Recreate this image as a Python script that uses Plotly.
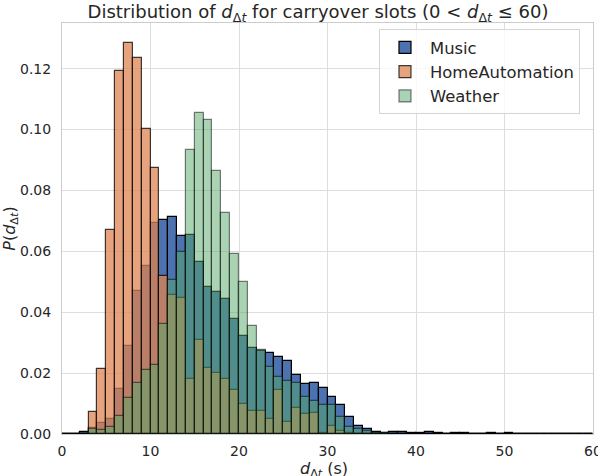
import plotly.graph_objects as go

# histogram bins (left edges, width 1 s) and normalised counts
bin_left = list(range(0, 60))

music = [0, 0, 0.0005, 0.0021, 0.0035, 0.0049, 0.0148, 0.0289, 0.0470, 0.0553,
         0.0692, 0.0702, 0.0713, 0.0649, 0.0655, 0.0565, 0.0482, 0.0466, 0.0443, 0.0377,
         0.0322, 0.0284, 0.0272, 0.0265, 0.0254, 0.0241, 0.0193, 0.0164, 0.0167, 0.0150,
         0.0123, 0.0095, 0.0057, 0.0025, 0.0015, 0.0008, 0.0004, 0.0006, 0.0006, 0.0003,
         0.0002, 0.0006, 0.0002, 0.0001, 0.0002, 0.0002, 0.0001, 0.0001, 0.0004, 0.0001,
         0.0002, 0.0001, 0.0001, 0.0001, 0.0001, 0.0001, 0.0001, 0.0001, 0.0001, 0.0001]

home_automation = [0, 0, 0, 0.0071, 0.0215, 0.0671, 0.1192, 0.1285, 0.1235, 0.1003,
                   0.0874, 0.0518, 0.0457, 0.0446, 0.0180, 0.0309, 0.0216, 0.0200, 0.0180, 0.0145,
                   0.0099, 0.0077, 0.0076, 0.0049, 0.0145, 0.0041, 0.0084, 0.0065, 0.0070, 0.0004,
                   0.0026, 0.0011, 0.0002, 0, 0, 0, 0, 0, 0, 0,
                   0, 0, 0, 0, 0, 0, 0, 0, 0, 0,
                   0, 0, 0, 0, 0, 0, 0, 0, 0, 0]

weather = [0, 0, 0, 0.0015, 0.0013, 0.0024, 0.0060, 0.0117, 0.0167, 0.0210,
           0.0228, 0.0361, 0.0505, 0.0599, 0.0934, 0.1054, 0.1031, 0.0863, 0.0726, 0.0592,
           0.0500, 0.0354, 0.0276, 0.0221, 0.0186, 0.0175, 0.0169, 0.0123, 0.0110, 0.0094,
           0.0094, 0.0057, 0.0022, 0.0015, 0.0010, 0.0004, 0.0002, 0.0001, 0, 0,
           0, 0, 0, 0, 0, 0, 0, 0, 0, 0,
           0, 0, 0, 0, 0, 0, 0, 0, 0, 0]

x_ticks = [0, 10, 20, 30, 40, 50, 60]
y_ticks = [0.00, 0.02, 0.04, 0.06, 0.08, 0.10, 0.12]

# name, values, rgb, alpha
series = [("Music", music, (76, 114, 176), 1.0),
          ("HomeAutomation", home_automation, (221, 132, 82), 0.75),
          ("Weather", weather, (85, 168, 104), 0.5)]

fig = go.Figure()
for name, vals, rgb, alpha in series:
    fig.add_trace(go.Bar(
        x=bin_left, y=vals, name=name, width=1, offset=0,
        legendgroup=name,
        marker=dict(color="rgba(%d,%d,%d,%.2f)" % (rgb + (alpha,)),
                    line=dict(color="rgba(0,0,0,%.2f)" % alpha, width=1.2)),
    ))

dt = "<i>d</i><sub>Δ<i>t</i></sub>"
fig.update_layout(
    width=598, height=476,
    margin=dict(l=62, r=5, t=23, b=42, autoexpand=False),
    barmode="overlay",
    bargap=0,
    paper_bgcolor="white",
    plot_bgcolor="white",
    font=dict(family="DejaVu Sans", size=14, color="#262626"),
    title=dict(text="Distribution of " + dt + " for carryover slots (0 &lt; " + dt + " ≤ 60)",
               x=318 / 598, xanchor="center",
               y=1 - 12 / 476, yanchor="middle",
               font=dict(size=18)),
    legend=dict(x=0.9755, y=0.985, xanchor="right", yanchor="top",
                bgcolor="rgba(255,255,255,0.8)", bordercolor="#d5d5d5", borderwidth=1,
                font=dict(size=16.4), tracegroupgap=0, itemwidth=40),
    showlegend=True,
)
# x axis label as an annotation so it can sit right at the bottom edge like the original
fig.add_annotation(text=dt + " (s)", xref="paper", yref="paper",
                   x=(324 - 62) / 531, y=-(469 - 434) / 411,
                   xanchor="center", yanchor="middle", showarrow=False,
                   font=dict(size=16))
fig.update_xaxes(range=[0, 60], tickvals=x_ticks, showgrid=True, gridcolor="#dddddd",
                 showline=True, linecolor="#cccccc", mirror=True, zeroline=False,
                 ticks="outside", ticklen=4, tickcolor="rgba(0,0,0,0)",
                 ticklabeloverflow="allow", automargin=False)
fig.update_yaxes(range=[0, 0.135], tickvals=y_ticks, tickformat=".2f",
                 showgrid=True, gridcolor="#dddddd",
                 showline=True, linecolor="#cccccc", mirror=True, zeroline=False,
                 ticks="outside", ticklen=7, tickcolor="rgba(0,0,0,0)", automargin=True,
                 title=dict(text="<i>P</i>(" + dt + ")", standoff=2, font=dict(size=16)))

# page has a default 8px body margin; drop it so the figure sits at the window corner
fig.write_html("out.html", config={"displayModeBar": False},
               post_script="document.body.style.margin='0';")
